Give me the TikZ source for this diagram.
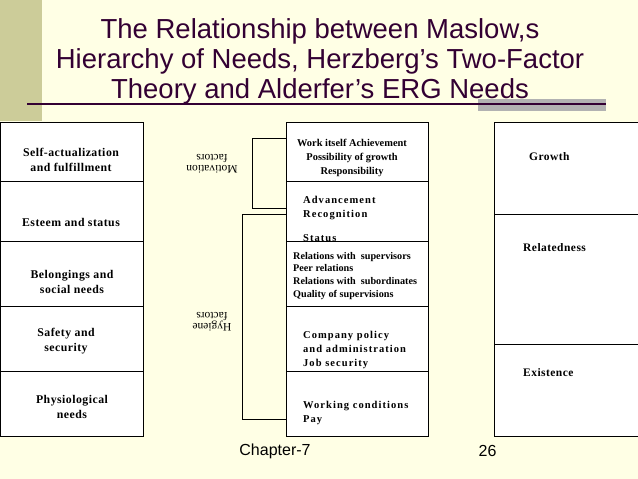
\documentclass[tikz,border=0pt]{standalone}
\usepackage{fontspec}
\setmainfont{Liberation Serif}
\newfontfamily\arialfont{Liberation Sans}
\definecolor{bgyellow}{HTML}{FFFFE5}
\definecolor{strip}{HTML}{CCCC99}
\definecolor{titlecol}{HTML}{330033}
\definecolor{barcol}{HTML}{B2B2B2}
\tikzset{
  cell/.style={draw=black, line width=0.9pt, fill=white},
  lbl/.style={font=\bfseries\fontsize{11.8}{15.5}\selectfont\addfontfeature{LetterSpace=4}, align=center, inner sep=0pt},
  midc/.style={font=\bfseries\fontsize{10.4}{14}\selectfont, align=center, inner sep=0pt},
  midl/.style={font=\bfseries\fontsize{10.2}{12.6}\selectfont, align=left, inner sep=0pt, anchor=north west},
  spaced/.style={font=\bfseries\fontsize{10.5}{14.2}\selectfont\addfontfeature{LetterSpace=10}, align=left, inner sep=0pt, anchor=north west},
  ergl/.style={font=\bfseries\fontsize{11.5}{12}\selectfont\addfontfeature{LetterSpace=4}, inner sep=0pt, anchor=west},
  factor/.style={font=\fontsize{11.5}{11}\selectfont, align=center, inner sep=0pt, rotate=180},
  brk/.style={draw=black, line width=0.9pt},
  foot/.style={font=\arialfont\fontsize{16}{18}\selectfont, inner sep=0pt}
}
\begin{document}
\begin{tikzpicture}[x=1pt,y=-1pt]
\useasboundingbox (0,0) rectangle (638,479);
\fill[bgyellow] (0,0) rectangle (638,479);
\fill[strip] (0,0) rectangle (42,121);
% title
\node[font=\arialfont\fontsize{27.5}{30}\selectfont, text=titlecol, align=center, inner sep=0pt] (title) at (320,61)
  {The Relationship between Maslow,s\\Hierarchy of Needs, Herzberg’s Two-Factor\\Theory and Alderfer’s ERG Needs};
\fill[barcol] (478,99) rectangle (606,111);
\coordinate (tl) at (27,104);
\coordinate (tr) at (606,104);
\draw[titlecol, line width=1.5pt] (tl) -- (tr);
% Maslow column
\draw[cell] (0.5,122) rectangle (143,436);
\foreach \yy in {181,241,306,371} \draw[black, line width=0.9pt] (0.5,\yy) -- (143,\yy);
\node[lbl] (m1) at (71,160) {Self-actualization\\and fulfillment};
\node[lbl] (m2) at (71,222) {Esteem and status};
\node[lbl] (m3) at (72,282) {Belongings and\\social needs};
\node[lbl] (m4) at (66,341) {Safety and\\security};
\node[lbl] (m5) at (72,407) {Physiological\\needs};
% Herzberg column
\draw[cell] (286,122) rectangle (428,436);
\foreach \yy in {181,241,306,371} \draw[black, line width=0.9pt] (286,\yy) -- (428,\yy);
\node[midc] (h1) at (352,158) {Work itself Achievement\\Possibility of growth\\Responsibility};
\node[spaced] (h2) at (303,196) {Advancement\\Recognition};
\node[spaced] (h2b) at (303,234) {Status};
\draw[black, line width=0.9pt] (286,241) -- (428,241);
\node[midl] (h3) at (293,252) {Relations with\ \ supervisors\\Peer relations\\Relations with\ \ subordinates\\Quality of supervisions};
\node[spaced] (h4) at (303,331) {Company policy\\and administration\\Job security};
\node[spaced] (h5) at (303,401) {Working conditions\\Pay};
% brackets
\coordinate (mt) at (286,138);
\coordinate (mb) at (286,208);
\draw[brk] (mt) -- (252,138) -- (252,208) -- (mb);
\coordinate (ht) at (286,214);
\coordinate (hb) at (286,419);
\draw[brk] (ht) -- (242,214) -- (242,419) -- (hb);
\node[factor] (mf) at (212,164) {Motivation\\factors};
\node[factor] (hf) at (212,322) {Hygiene\\factors};
% ERG column
\draw[cell] (494,122) rectangle (645,436);
\draw[black, line width=0.9pt] (494,214) -- (645,214);
\draw[black, line width=0.9pt] (494,344) -- (645,344);
\node[ergl] (e1) at (529,157) {Growth};
\node[ergl] (e2) at (523,248) {Relatedness};
\node[ergl] (e3) at (523,373) {Existence};
% footer
\node[foot] (ch) at (275,451) {Chapter-7};
\node[foot] (pg) at (487.5,451) {26};
\end{tikzpicture}
\end{document}
